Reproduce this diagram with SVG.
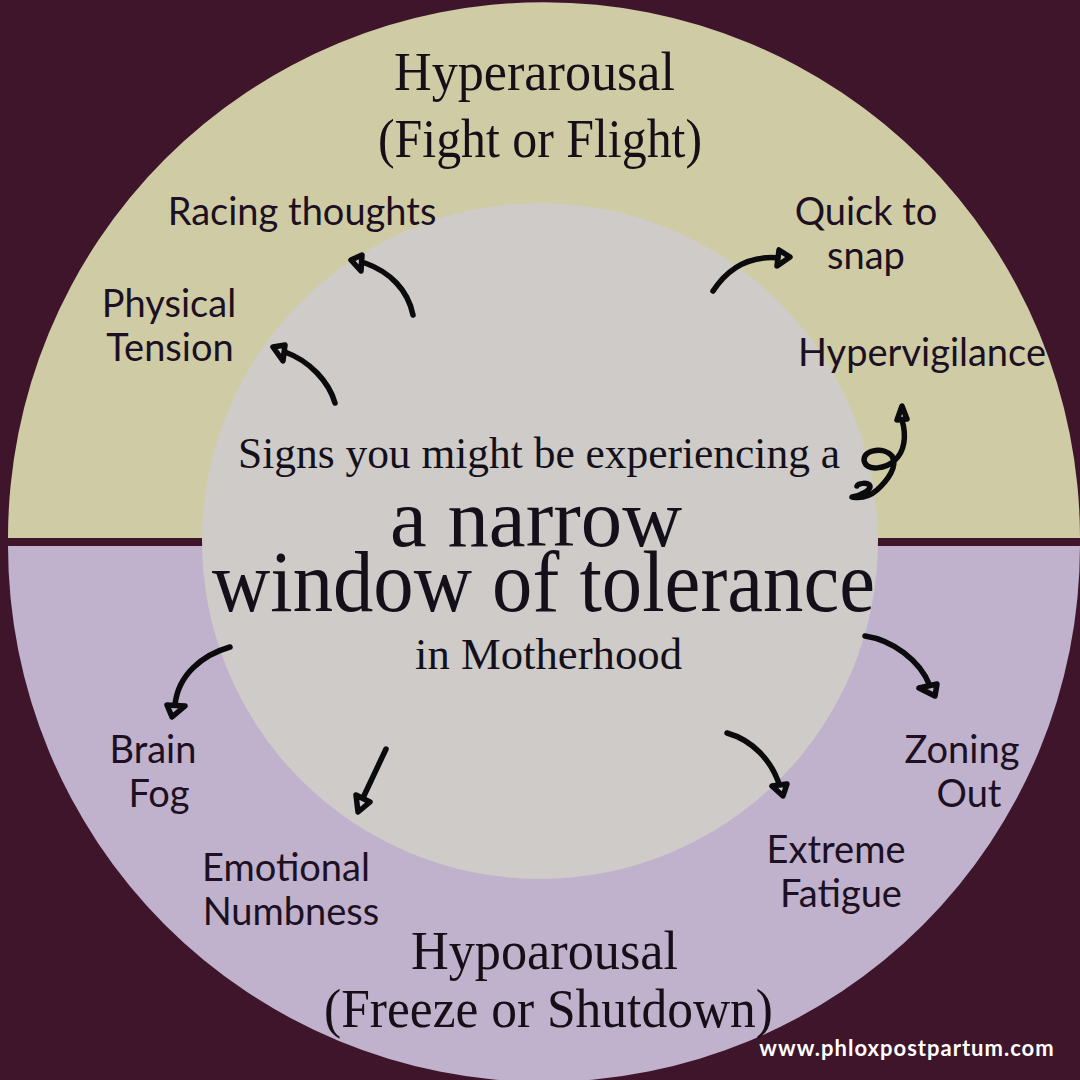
<svg xmlns="http://www.w3.org/2000/svg" width="1080" height="1080" viewBox="0 0 1080 1080">
<style>
.s{font-family:"Lato","Liberation Sans",sans-serif;font-size:38px;fill:#1c1022;text-anchor:middle}
.h{font-family:"Liberation Serif","DejaVu Serif",serif;font-size:54px;fill:#170f17;text-anchor:middle}
.c{font-family:"Liberation Serif","DejaVu Serif",serif;fill:#14101a;text-anchor:middle}
.a{fill:none;stroke:#0b0a0c;stroke-width:5.5;stroke-linecap:round;stroke-linejoin:round}
.t{stroke:#0b0a0c;stroke-width:5.5;stroke-linejoin:round}
.g{fill:#cecbc8}.y{fill:#cfcca5}.p{fill:#c0b1cc}
</style>
<rect width="1080" height="1080" fill="#3f152b"/>
<g id="halves">
<path d="M8 538A536 536 0 0 1 1080 538Z" class="y"/>
<path d="M8 546A536 536 0 0 0 1080 546Z" class="p"/>
</g>
<circle id="center" cx="540" cy="541" r="338" class="g"/>
<g id="center-title">
<text class="c" x="539" y="468" font-size="44" textLength="602" lengthAdjust="spacingAndGlyphs">Signs you might be experiencing a</text>
<text class="c" x="536" y="546" font-size="82" textLength="292" lengthAdjust="spacingAndGlyphs">a narrow</text>
<text class="c" x="543.5" y="611" font-size="86" textLength="663" lengthAdjust="spacingAndGlyphs">window of tolerance</text>
<text class="c" x="548.5" y="669" font-size="45" textLength="267" lengthAdjust="spacingAndGlyphs">in Motherhood</text>
</g>
<g id="hyper"><text class="h" x="534.5" y="90" textLength="281" lengthAdjust="spacingAndGlyphs">Hyperarousal</text><text class="h" x="540" y="157" textLength="324" lengthAdjust="spacingAndGlyphs">(Fight or Flight)</text></g>
<g id="hypo"><text class="h" x="544.5" y="969" textLength="267" lengthAdjust="spacingAndGlyphs">Hypoarousal</text><text class="h" x="548.5" y="1027" textLength="449" lengthAdjust="spacingAndGlyphs">(Freeze or Shutdown)</text></g>
<g id="racing"><text class="s" x="302" y="225">Racing thoughts</text></g>
<g id="tension"><text class="s" x="169" y="317">Physical</text><text class="s" x="170" y="361">Tension</text></g>
<g id="snap"><text class="s" x="866" y="225">Quick to</text><text class="s" x="866" y="269">snap</text></g>
<g id="vigilance"><text class="s" x="922" y="366">Hypervigilance</text></g>
<g id="fog"><text class="s" x="153" y="763">Brain</text><text class="s" x="159" y="807">Fog</text></g>
<g id="numb"><text class="s" x="286" y="881">Emotional</text><text class="s" x="291" y="925">Numbness</text></g>
<g id="fatigue"><text class="s" x="836" y="863">Extreme</text><text class="s" x="841" y="907">Fatigue</text></g>
<g id="zoning"><text class="s" x="962" y="763">Zoning</text><text class="s" x="969" y="807">Out</text></g>
<g id="connectors">
<path class="a" d="M413 315C408 290 390 272 365 263"/><path class="t g" d="M351 260L362 255L361 271Z"/>
<path class="a" d="M335 403C329 382 310 361 285 352"/><path class="t g" d="M273 347L285 345L283 361Z"/>
<path class="a" d="M713 291C728 268 750 255 780 258"/><path class="t y" d="M790 257L779 250L777 266Z"/>
<path class="a" d="M902 420C907 437 904 452 895 460C887 468 866 473 864 460C864 449 885 447 892 456C898 466 888 480 877 490C868 498 858 498 852 497C860 496 871 490 870 486C868 482 858 483 857 486"/><path class="t y" d="M902 406L897 420L907 419Z"/>
<path class="a" d="M230 647C202 655 178 675 175 705"/><path class="t p" d="M172 717L167 705L185 706Z"/>
<path class="a" d="M386 749L362 800"/><path class="t g" d="M358 812L356 795L370 802Z"/>
<path class="a" d="M727 733C752 740 772 760 780 787"/><path class="t g" d="M783 796L772 786L787 784Z"/>
<path class="a" d="M865 636C892 640 920 660 930 686"/><path class="t p" d="M935 696L919 688L937 684Z"/>
</g>
<text id="url" x="907" y="1056" font-family="Lato,'Liberation Sans',sans-serif" font-size="22" font-weight="700" letter-spacing="1" fill="#fff" text-anchor="middle">www.phloxpostpartum.com</text>
</svg>
